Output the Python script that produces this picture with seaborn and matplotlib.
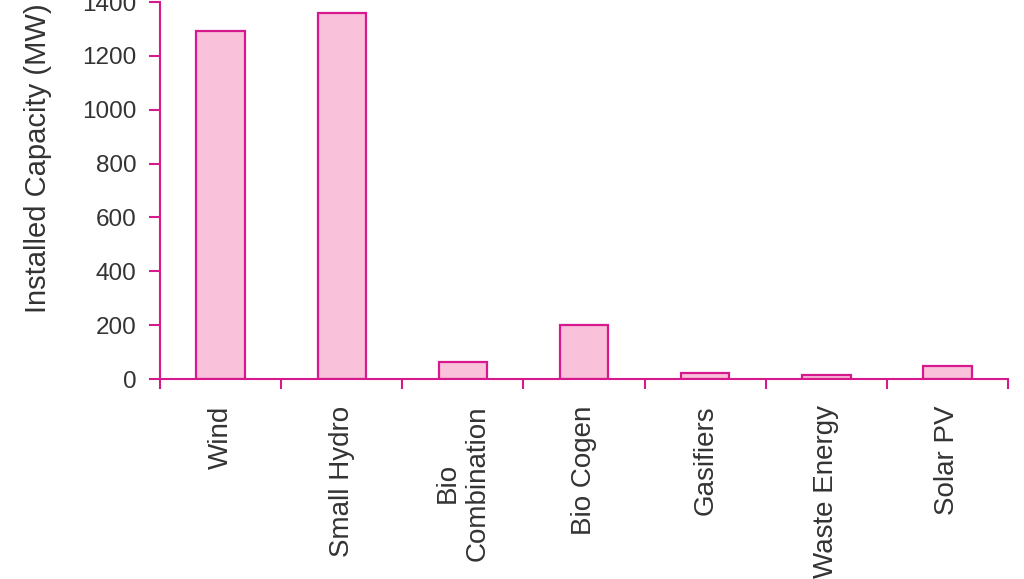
import matplotlib
matplotlib.use("Agg")
import matplotlib.pyplot as plt
import seaborn as sns
import pandas as pd
import numpy as np

# installed capacity by source
sources = ["Wind", "Small Hydro", "Bio\nCombination", "Bio Cogen",
           "Gasifiers", "Waste Energy", "Solar PV"]
capacity = [1292, 1360, 65, 200, 22, 15, 49]
y_ticks = [0, 200, 400, 600, 800, 1000, 1200, 1400]

magenta = "#d6198c"
pink = "#f9c1da"
text_col = "#333333"

sns.set_style("white")
plt.rcParams["font.family"] = ["Liberation Sans", "DejaVu Sans"]

df = pd.DataFrame({"source": sources, "capacity": capacity})

fig = plt.figure(figsize=(10.24, 5.79), dpi=100)
ax = fig.add_axes([0.1563, 0.3454, 0.8281, 0.6511])

sns.barplot(data=df, x="source", y="capacity", color=pink, saturation=1,
            edgecolor=magenta, linewidth=1.6, width=0.4, ax=ax)

ax.set_xlim(-0.5, len(sources) - 0.5)
ax.set_ylim(0, 1400)
ax.set_yticks(y_ticks)
ax.set_xticks(np.arange(len(sources)))
ax.set_xticklabels(sources, rotation=90, ha="center", va="top",
                   multialignment="center", fontsize=20, color=text_col)
ax.set_xticks(np.arange(len(sources) + 1) - 0.5, minor=True)

ax.tick_params(axis="y", which="major", direction="out", length=8, width=1.5,
               color=magenta, labelsize=17.5, labelcolor=text_col, pad=9, left=True)
ax.tick_params(axis="x", which="major", length=0, pad=19)
ax.tick_params(axis="x", which="minor", direction="out", length=7.5, width=1.5,
               color=magenta, bottom=True)

for side in ["top", "right"]:
    ax.spines[side].set_visible(False)
for side in ["left", "bottom"]:
    ax.spines[side].set_color(magenta)
    ax.spines[side].set_linewidth(1.5)

ax.set_xlabel("")
ax.set_ylabel("Installed Capacity (MW)", fontsize=21, color=text_col)
# label sits higher than the axes middle in the original
ax.yaxis.set_label_coords(-0.128, 0.586)

fig.savefig("out.png", dpi=100)
